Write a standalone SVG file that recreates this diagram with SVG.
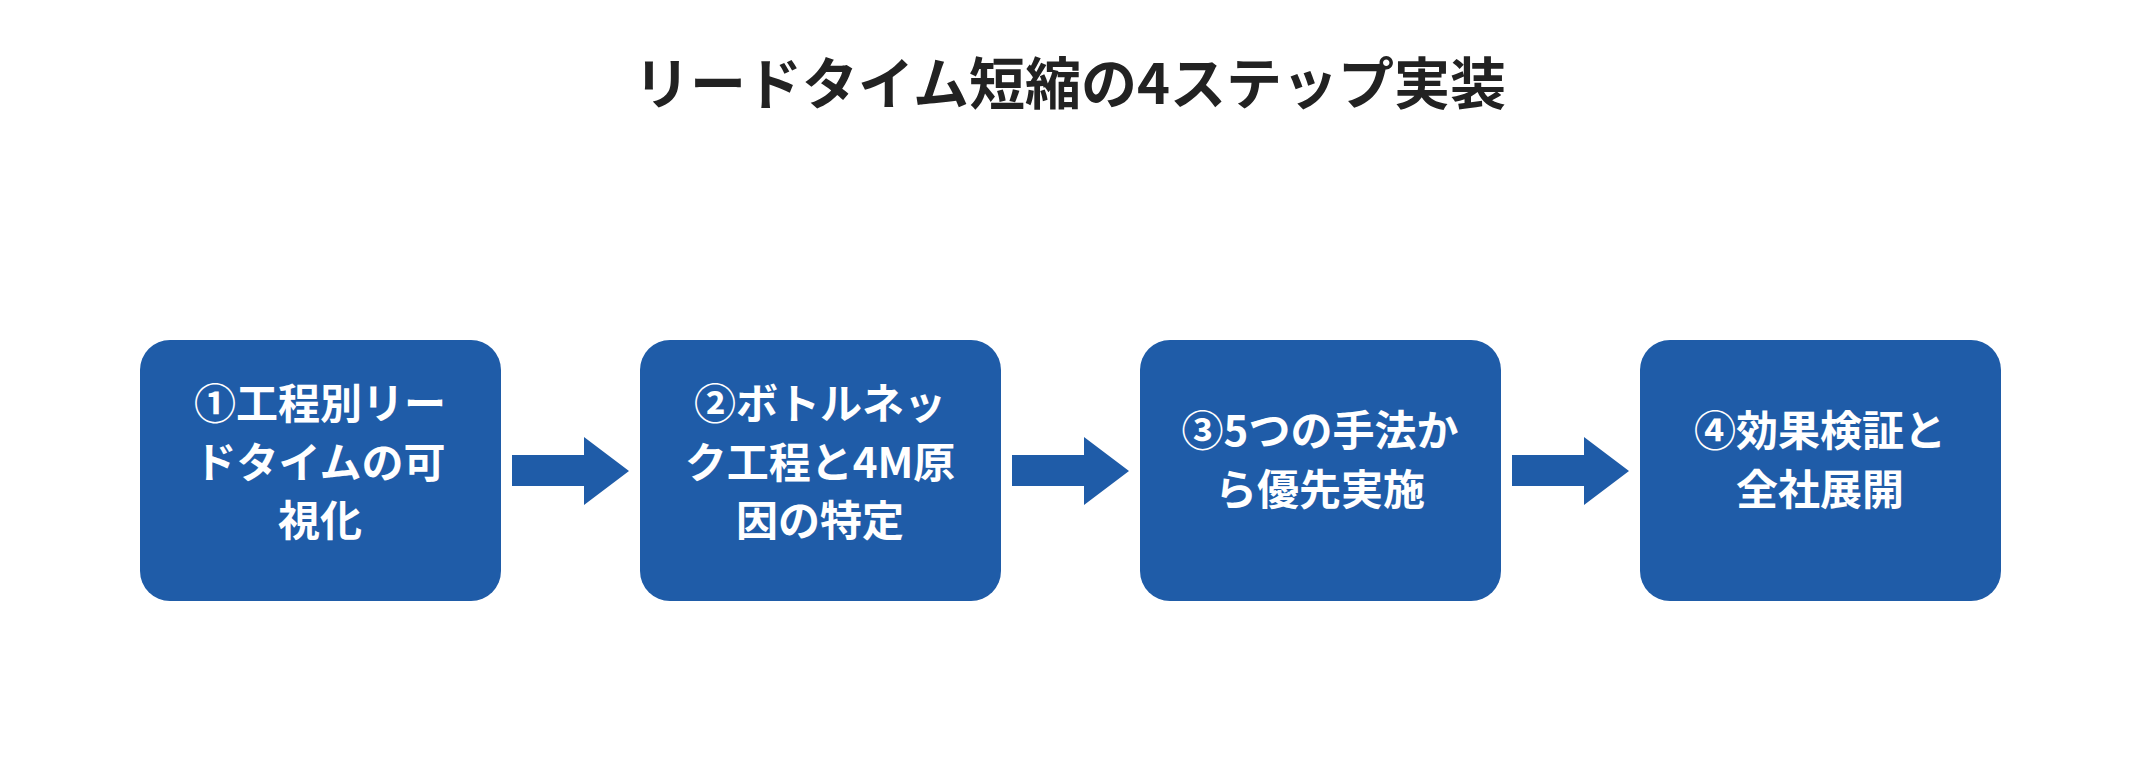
<svg xmlns="http://www.w3.org/2000/svg" width="2140" height="780" viewBox="0 0 2140 780">
<style>
.box{fill:#1f5ca8}
.t{font-family:"Noto Sans CJK JP","Noto Sans",sans-serif;font-weight:bold;font-size:42px;fill:#fff;text-anchor:middle;dominant-baseline:central}
.title{font-family:"Noto Sans CJK JP","Noto Sans",sans-serif;font-weight:bold;font-size:56px;fill:#222;text-anchor:middle}
.arr{fill:#1f5ca8}
</style>
<rect width="2140" height="780" fill="#fff"/>
<text class="title" x="1070" y="104">リードタイム短縮の4ステップ実装</text>
<g id="n1"><rect class="box" x="140" y="340" width="361" height="261" rx="30"/>
<text class="t" x="320" y="400">①工程別リー</text><text class="t" x="320" y="459">ドタイムの可</text><text class="t" x="320" y="517">視化</text></g>
<g id="n2"><rect class="box" x="640" y="340" width="361" height="261" rx="30"/>
<text class="t" x="820" y="400">②ボトルネッ</text><text class="t" x="820" y="459">ク工程と4M原</text><text class="t" x="820" y="517">因の特定</text></g>
<g id="n3"><rect class="box" x="1140" y="340" width="361" height="261" rx="30"/>
<text class="t" x="1320" y="427">③5つの手法か</text><text class="t" x="1320" y="486">ら優先実施</text></g>
<g id="n4"><rect class="box" x="1640" y="340" width="361" height="261" rx="30"/>
<text class="t" x="1820" y="427">④効果検証と</text><text class="t" x="1820" y="486">全社展開</text></g>
<g id="connectors">
<polygon class="arr" points="512,455 584,455 584,437 629,471 584,505 584,486 512,486"/>
<polygon class="arr" points="1012,455 1084,455 1084,437 1129,471 1084,505 1084,486 1012,486"/>
<polygon class="arr" points="1512,455 1584,455 1584,437 1629,471 1584,505 1584,486 1512,486"/>
</g>
</svg>
